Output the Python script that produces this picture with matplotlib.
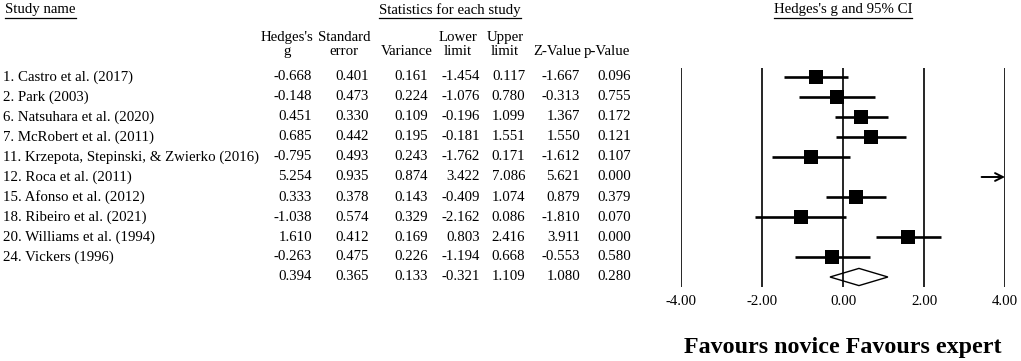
import matplotlib
matplotlib.use('Agg')

import matplotlib.pyplot as plt
from matplotlib.transforms import blended_transform_factory
from matplotlib.lines import Line2D
from matplotlib.patches import Polygon

plt.rcParams['font.family'] = ['Liberation Serif', 'DejaVu Serif']

# 연구 데이터
studies = ['1. Castro et al. (2017)', '2. Park (2003)', '6. Natsuhara et al. (2020)',
           '7. McRobert et al. (2011)', '11. Krzepota, Stepinski, & Zwierko (2016)',
           '12. Roca et al. (2011)', '15. Afonso et al. (2012)', '18. Ribeiro et al. (2021)',
           '20. Williams et al. (1994)', '24. Vickers (1996)']
hedges_g = [-0.668, -0.148, 0.451, 0.685, -0.795, 5.254, 0.333, -1.038, 1.610, -0.263]
std_err = [0.401, 0.473, 0.330, 0.442, 0.493, 0.935, 0.378, 0.574, 0.412, 0.475]
variance = [0.161, 0.224, 0.109, 0.195, 0.243, 0.874, 0.143, 0.329, 0.169, 0.226]
lower = [-1.454, -1.076, -0.196, -0.181, -1.762, 3.422, -0.409, -2.162, 0.803, -1.194]
upper = [0.117, 0.780, 1.099, 1.551, 0.171, 7.086, 1.074, 0.086, 2.416, 0.668]
z_value = [-1.667, -0.313, 1.367, 1.550, -1.612, 5.621, 0.879, -1.810, 3.911, -0.553]
p_value = [0.096, 0.755, 0.172, 0.121, 0.107, 0.000, 0.379, 0.070, 0.000, 0.580]

# 요약 효과 (summary)
summary = [0.394, 0.365, 0.133, -0.321, 1.109, 1.080, 0.280]

x_ticks = [-4, -2, 0, 2, 4]
x_min, x_max = -4, 4

W, H = 1021, 361
fig = plt.figure(figsize=(W / 100, H / 100), dpi=100)

# 포레스트 플롯 영역 (픽셀 기준)
ax_left, ax_right, ax_top, ax_bottom = 681, 1005, 68, 287
ax = fig.add_axes([ax_left / W, 1 - ax_bottom / H, (ax_right - ax_left) / W, (ax_bottom - ax_top) / H])
row0, row_step = 77, 20


def px_to_row(py):
    return (py - row0) / row_step


ax.set_xlim(x_min, x_max)
ax.set_ylim(px_to_row(ax_bottom), px_to_row(ax_top))
for s in ax.spines.values():
    s.set_visible(False)
ax.set_yticks([])
ax.set_xticks(x_ticks)
ax.set_xticklabels(['%.2f' % t for t in x_ticks], fontsize=10.7)
ax.tick_params(axis='x', length=0, pad=6)
for t in x_ticks:
    ax.axvline(t, color='black', lw=1.2)

n = len(studies)
for i in range(n):
    g, lo, hi = hedges_g[i], lower[i], upper[i]
    if g > x_max:
        # 범위를 벗어나는 경우 화살표
        ax.annotate('', xy=(x_max, i), xytext=(max(lo, x_min), i),
                    arrowprops=dict(arrowstyle='->', color='black', lw=1.4,
                                    mutation_scale=14, shrinkA=0, shrinkB=0))
        continue
    ax.plot([max(lo, x_min), min(hi, x_max)], [i, i], color='black', lw=1.9, solid_capstyle='butt')
    ax.plot(g, i, marker='s', color='black', markersize=10.5, markeredgewidth=0)

# 요약 다이아몬드
s_g, s_lo, s_hi = summary[0], summary[3], summary[4]
dh = 0.43
ax.add_patch(Polygon([[s_lo, n], [s_g, n - dh], [s_hi, n], [s_g, n + dh]],
                     closed=True, facecolor='white', edgecolor='black', lw=1.0))

# 표 텍스트
tr = blended_transform_factory(fig.transFigure, ax.transData)
fs = 10.7
col_right = [312, 369, 428, 480, 525, 580, 631]
columns = [hedges_g, std_err, variance, lower, upper, z_value, p_value]
for i in range(n):
    ax.text(3 / W, i, studies[i], transform=tr, ha='left', va='center', fontsize=fs)
    for x, col in zip(col_right, columns):
        ax.text(x / W, i, '%.3f' % col[i], transform=tr, ha='right', va='center', fontsize=fs)
for x, v in zip(col_right, summary):
    ax.text(x / W, n, '%.3f' % v, transform=tr, ha='right', va='center', fontsize=fs)

# 열 제목
headers = [('Hedges\'s\ng', 287), ('Standard\nerror', 344), ('Variance', 407),
           ('Lower\nlimit', 458), ('Upper\nlimit', 505), ('Z-Value', 557), ('p-Value', 607)]
for label, cx in headers:
    ax.text(cx / W, px_to_row(58), label, transform=tr, ha='center', va='bottom',
            fontsize=fs, linespacing=1.1)

# 밑줄 있는 상단 제목
titles = [('Study name', 5, 'left'), ('Statistics for each study', 450, 'center'),
          ('Hedges\'s g and 95% CI', 843, 'center')]
title_objs = [fig.text(x / W, 1 - 10 / H, t, ha=ha, va='center', fontsize=fs)
              for t, x, ha in titles]

fig.text(843 / W, 1 - 347 / H, 'Favours novice Favours expert', ha='center', va='center',
         fontsize=17.3, fontweight='bold')

fig.canvas.draw()
renderer = fig.canvas.get_renderer()
for t in title_objs:
    bb = t.get_window_extent(renderer)
    y = (bb.y0 - 1) / (H)
    fig.add_artist(Line2D([bb.x0 / W, bb.x1 / W], [y, y], color='black', lw=0.9,
                          transform=fig.transFigure))

plt.savefig('out.png', dpi=100)
plt.close()
